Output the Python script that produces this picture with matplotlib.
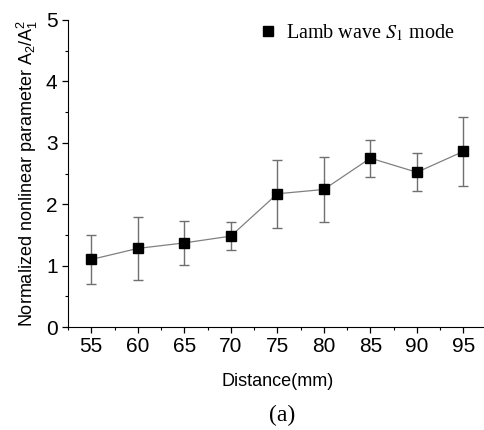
import matplotlib
matplotlib.use("Agg")
import matplotlib.pyplot as plt
from matplotlib.ticker import MultipleLocator

# Data
distance = [55, 60, 65, 70, 75, 80, 85, 90, 95]
ratio = [1.10, 1.28, 1.37, 1.48, 2.17, 2.24, 2.75, 2.52, 2.86]
ratio_err = [0.40, 0.51, 0.36, 0.23, 0.55, 0.53, 0.30, 0.31, 0.56]

plt.rcParams['font.family'] = ['Liberation Sans', 'DejaVu Sans']
plt.rcParams['mathtext.fontset'] = 'stix'

fig = plt.figure(figsize=(4.84, 4.30), dpi=100)
ax = fig.add_axes([0.1405, 0.2395, 0.865, 0.714])

# Error bars first (gray), then the line and markers
ax.errorbar(distance, ratio, yerr=ratio_err, fmt='none', ecolor='#707070',
            elinewidth=1.0, capsize=3.5, capthick=1.0, zorder=2)
ax.plot(distance, ratio, color='#808080', linewidth=0.9, zorder=3)
ax.plot(distance, ratio, linestyle='none', marker='s', markersize=7.2,
        color='black', label=r'Lamb wave $\mathit{S}_1$ mode', zorder=4)

ax.set_xlim(52.5, 97.5)
ax.set_ylim(0, 5)
ax.xaxis.set_major_locator(MultipleLocator(5))
ax.xaxis.set_minor_locator(MultipleLocator(2.5))
ax.yaxis.set_major_locator(MultipleLocator(1))
ax.yaxis.set_minor_locator(MultipleLocator(0.5))
ax.tick_params(which='major', direction='out', length=4, width=0.9, labelsize=15)
ax.tick_params(which='minor', direction='out', length=2.5, width=0.8)
ax.spines['top'].set_visible(False)
ax.spines['right'].set_visible(False)

ax.set_xlabel('Distance(mm)', fontsize=13, labelpad=12)
ax.set_ylabel(r'Normalized nonlinear parameter A$\mathregular{_2}$/A$\mathregular{_1^2}$',
              fontsize=13, labelpad=4)

leg = ax.legend(loc='upper left', bbox_to_anchor=(0.415, 1.05), frameon=False,
                prop={'family': 'Liberation Serif', 'size': 14.5},
                handlelength=0.8, handletextpad=0.5, markerscale=0.95)

fig.text(0.583, 0.02, '(a)', family='Liberation Serif', fontsize=17,
         ha='center', va='baseline')

fig.savefig('out.png', dpi=100)
